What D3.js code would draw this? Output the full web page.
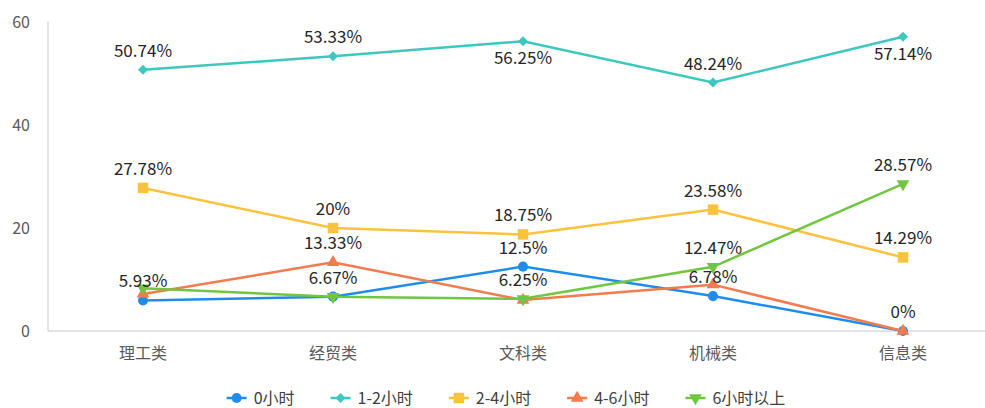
<!DOCTYPE html>
<html>
<head>
<meta charset="utf-8">
<script src="https://cdn.jsdelivr.net/npm/d3@7"></script>
<style>
    body { margin: 0; background: #fff; }
    svg { font-family: "Noto Sans CJK SC", "Noto Sans", sans-serif; }
</style>
</head>
<body>
<svg id="chart"></svg>
<script>
const categories = ["理工类", "经贸类", "文科类", "机械类", "信息类"];
const seriesNames = ["0小时", "1-2小时", "2-4小时", "4-6小时", "6小时以上"];
const hours0 = [5.93, 6.67, 12.5, 6.78, 0];
const hours1to2 = [50.74, 53.33, 56.25, 48.24, 57.14];
const hours2to4 = [27.78, 20, 18.75, 23.58, 14.29];
const hours4to6 = [7.2, 13.33, 6.0, 9.0, 0];
const hours6plus = [8.3, 6.67, 6.25, 12.47, 28.57];
const yTicks = [0, 20, 40, 60];

// which points carry a visible label (the rest are hidden by overlap in the original)
const shownLabels = [
    [true, true, true, true, true],
    [true, true, true, true, true],
    [true, true, true, true, true],
    [false, true, false, false, false],
    [false, false, true, true, true]
];

const width = 985, height = 408;
const margin = { top: 22, right: -13, bottom: 77, left: 48 };
const colors = ["#1f8ceb", "#3cc8bf", "#fbc23f", "#f47b4e", "#70c73f"];
const symbols = [d3.symbolCircle, d3.symbolSquare, d3.symbolSquare, d3.symbolTriangle, d3.symbolTriangle];
const symbolSizes = [80, 50, 110, 70, 70];
const rotations = [0, 45, 0, 0, 180];

const series = [hours0, hours1to2, hours2to4, hours4to6, hours6plus].map((values, i) => ({
    name: seriesNames[i],
    color: colors[i],
    values: values,
    index: i
}));

const svg = d3.select("#chart")
    .attr("width", width)
    .attr("height", height);

const x = d3.scaleBand()
    .domain(categories)
    .range([margin.left, width - margin.right]);

const y = d3.scaleLinear()
    .domain([0, 60])
    .range([height - margin.bottom, margin.top]);

const cx = c => x(c) + x.bandwidth() / 2;

// axes
svg.append("line")
    .attr("x1", margin.left).attr("x2", margin.left)
    .attr("y1", y(60)).attr("y2", y(0))
    .attr("stroke", "#d9d9e3").attr("stroke-width", 1.5);

svg.append("line")
    .attr("x1", margin.left).attr("x2", width)
    .attr("y1", y(0)).attr("y2", y(0))
    .attr("stroke", "#d9d9e3").attr("stroke-width", 1.5);

svg.append("g")
    .selectAll("text")
    .data(yTicks)
    .join("text")
    .attr("x", 30)
    .attr("y", d => y(d))
    .attr("dy", "0.35em")
    .attr("text-anchor", "end")
    .attr("fill", "#595959")
    .style("font-size", "16px")
    .text(d => d);

svg.append("g")
    .selectAll("text")
    .data(categories)
    .join("text")
    .attr("x", d => cx(d))
    .attr("y", 353)
    .attr("dy", "0.35em")
    .attr("text-anchor", "middle")
    .attr("fill", "#595959")
    .style("font-size", "16px")
    .text(d => d);

// lines and markers
const line = d3.line()
    .x((d, i) => cx(categories[i]))
    .y(d => y(d));

const markerPath = (s) => d3.symbol().type(symbols[s.index]).size(symbolSizes[s.index])();
const markerTransform = (s, px, py) =>
    `translate(${px},${py}) rotate(${rotations[s.index]})`;

const groups = svg.append("g")
    .selectAll(".series")
    .data(series)
    .join("g")
    .attr("class", "series");

groups.append("path")
    .attr("d", d => line(d.values))
    .attr("fill", "none")
    .attr("stroke", d => d.color)
    .attr("stroke-width", 2.5);

groups.selectAll(".marker")
    .data(d => d.values.map((v, i) => ({ s: d, v: v, i: i })))
    .join("path")
    .attr("class", "marker")
    .attr("d", d => markerPath(d.s))
    .attr("transform", d => markerTransform(d.s, cx(categories[d.i]), y(d.v)))
    .attr("fill", d => d.s.color);

// data labels
const labels = [];
series.forEach(s => s.values.forEach((v, i) => {
    if (shownLabels[s.index][i]) labels.push({ s: s, v: v, i: i });
}));

const below = d => d.s.index === 1 && (d.i === 2 || d.i === 4);

svg.append("g")
    .selectAll("text")
    .data(labels)
    .join("text")
    .attr("x", d => cx(categories[d.i]))
    .attr("y", d => y(d.v) + (below(d) ? 23 : -13))
    .attr("text-anchor", "middle")
    .attr("fill", "#262626")
    .style("font-size", "17px")
    .text(d => `${d.v}%`);

// legend
const legend = svg.append("g").attr("class", "legend");
const legendY = 398;
const items = legend.selectAll(".legend-item")
    .data(series)
    .join("g")
    .attr("class", "legend-item");

items.append("line")
    .attr("x1", 0).attr("x2", 20)
    .attr("y1", 0).attr("y2", 0)
    .attr("stroke", d => d.color)
    .attr("stroke-width", 2.5);

items.append("path")
    .attr("d", d => markerPath(d))
    .attr("transform", d => markerTransform(d, 10, 0))
    .attr("fill", d => d.color);

items.append("text")
    .attr("x", 27)
    .attr("dy", "0.35em")
    .attr("fill", "#404040")
    .style("font-size", "16px")
    .text(d => d.name);

let offset = 0;
const positions = [];
items.each(function() {
    positions.push(offset);
    const w = 27 + d3.select(this).select("text").node().getComputedTextLength();
    offset += w + 36;
});
const totalWidth = offset - 36;
const legendStart = 506 - totalWidth / 2;
items.attr("transform", (d, i) => `translate(${legendStart + positions[i]},${legendY})`);
</script>
</body>
</html>
